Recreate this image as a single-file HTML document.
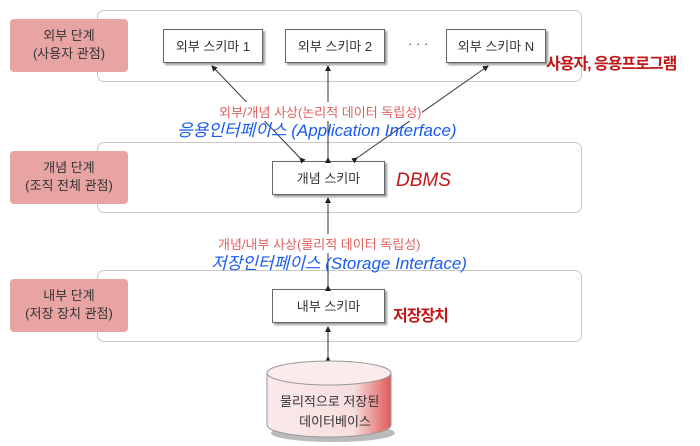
<!DOCTYPE html>
<html><head><meta charset="utf-8"><style>
body{margin:0;width:700px;height:446px;background:#fff;position:relative;overflow:hidden;font-family:"Liberation Sans","Noto Sans CJK KR",sans-serif}
.band{position:absolute;left:97px;width:485px;border:1.5px solid #c8c8c8;border-radius:7px;box-sizing:border-box}
.lab{position:absolute;left:10px;width:118px;height:53px;background:#e8a3a3;border-radius:4px;color:#333;font-size:13px;text-align:center;line-height:18px;padding-top:8px;box-sizing:border-box}
.box{position:absolute;height:34px;border:1px solid #666;background:#fff;box-shadow:2px 2px 2px #999;font-size:13px;color:#333;text-align:center;line-height:33px;box-sizing:border-box}
.t{position:absolute;white-space:nowrap}
</style></head><body>
<div class="band" style="top:10px;height:72px"></div>
<div class="band" style="top:142px;height:71px"></div>
<div class="band" style="top:270px;height:72px"></div>
<div class="lab" style="top:19px">외부 단계<br>(사용자 관점)</div>
<div class="lab" style="top:151px">개념 단계<br>(조직 전체 관점)</div>
<div class="lab" style="top:279px">내부 단계<br>(저장 장치 관점)</div>
<div class="box" style="left:163px;top:29px;width:100px">외부 스키마 1</div>
<div class="box" style="left:285px;top:29px;width:100px">외부 스키마 2</div>
<div class="t" style="left:408px;top:36px;font-size:13px;color:#444">· · ·</div>
<div class="box" style="left:446px;top:29px;width:100px">외부 스키마 N</div>
<div class="box" style="left:272px;top:161px;width:113px">개념 스키마</div>
<div class="box" style="left:272px;top:289px;width:113px">내부 스키마</div>
<svg style="position:absolute;left:0;top:0" width="700" height="446">
<defs><marker id="a" markerWidth="6" markerHeight="6" refX="5" refY="3" orient="auto"><path d="M0,0L6,3L0,6z" fill="#222"/></marker></defs>
<g stroke="#333" stroke-width="1" fill="none">
<line x1="300" y1="158" x2="212" y2="66" marker-end="url(#a)" marker-start="url(#a)"/>
<line x1="328" y1="158" x2="328" y2="66" marker-end="url(#a)" marker-start="url(#a)"/>
<line x1="357" y1="158" x2="488" y2="66" marker-end="url(#a)" marker-start="url(#a)"/>
<line x1="328" y1="286" x2="328" y2="198" marker-end="url(#a)" marker-start="url(#a)"/>
<line x1="328" y1="357" x2="328" y2="327" marker-end="url(#a)" marker-start="url(#a)"/>
</g>
<defs><linearGradient id="g" x1="0" x2="1"><stop offset="0" stop-color="#fbeaea"/><stop offset="0.7" stop-color="#f7dede"/><stop offset="1" stop-color="#e05a5a"/></linearGradient></defs>
<ellipse cx="333" cy="433" rx="62" ry="9" fill="#bbb"/>
<path d="M267,373 L267,425 A62,12 0 0 0 391,425 L391,373 Z" fill="url(#g)" stroke="#999"/>
<ellipse cx="329" cy="373" rx="62" ry="12" fill="#fbecec" stroke="#999"/>
</svg>
<div class="t" style="left:280px;top:392px;font-size:13px;color:#333;text-align:center;line-height:20px">물리적으로 저장된<br>&nbsp;&nbsp;&nbsp;데이터베이스</div>
<div class="t" style="left:219px;top:102px;font-size:13px;color:#e06060;background:#fff">외부/개념 사상(논리적 데이터 독립성)</div>
<div class="t" style="left:177px;top:116px;font-size:17px;color:#1a5cf0;font-style:italic">응용인터페이스 (Application Interface)</div>
<div class="t" style="left:218px;top:234px;font-size:13px;color:#e06060;background:#fff">개념/내부 사상(물리적 데이터 독립성)</div>
<div class="t" style="left:211px;top:249px;font-size:17px;color:#1a5cf0;font-style:italic">저장인터페이스 (Storage Interface)</div>
<div class="t" style="left:546px;top:50px;font-size:16px;letter-spacing:-1px;color:#c01818;font-weight:bold">사용자, 응용프로그램</div>
<div class="t" style="left:396px;top:170px;font-size:19px;color:#c01818;font-style:italic">DBMS</div>
<div class="t" style="left:393px;top:302px;font-size:16px;letter-spacing:-1px;color:#c01818;font-weight:bold">저장장치</div>
</body></html>
